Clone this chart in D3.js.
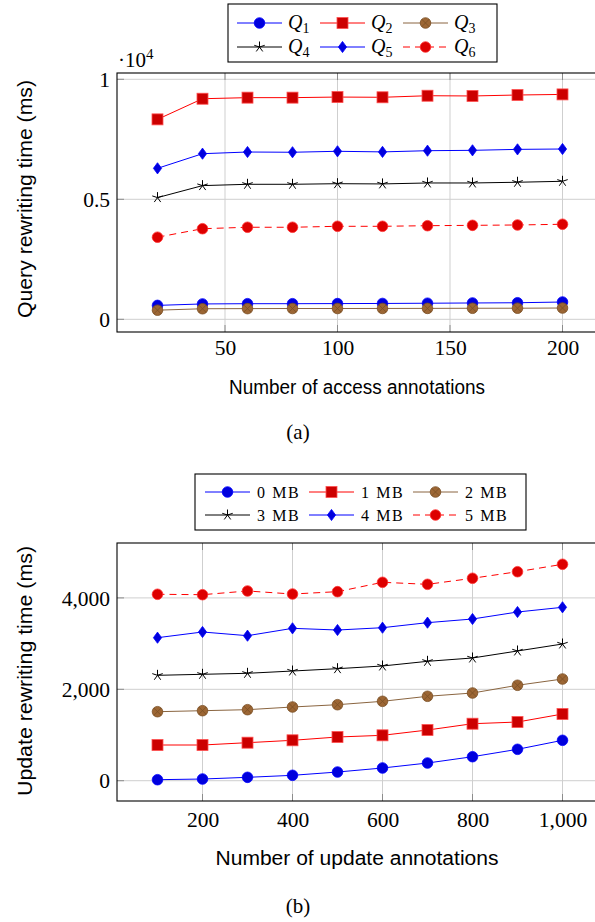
<!DOCTYPE html>
<html><head><meta charset="utf-8">
<script src="https://cdn.jsdelivr.net/npm/d3@7"></script>
<style>body{margin:0;background:#fff;} svg{display:block;}</style>
</head><body>
<script>
// ---------- data ----------
const accessX = [20, 40, 60, 80, 100, 120, 140, 160, 180, 200];
const q1 = [580, 640, 650, 650, 655, 660, 670, 680, 690, 720];
const q2 = [8330, 9190, 9235, 9235, 9260, 9250, 9315, 9305, 9345, 9370];
const q3 = [380, 440, 445, 450, 450, 452, 455, 460, 462, 470];
const q4 = [5070, 5570, 5625, 5625, 5650, 5640, 5680, 5680, 5710, 5750];
const q5 = [6290, 6900, 6970, 6960, 7000, 6975, 7025, 7040, 7080, 7095];
const q6 = [3420, 3775, 3835, 3835, 3875, 3875, 3900, 3915, 3930, 3960];
const accessXTicks = [50, 100, 150, 200];
const queryYTicks = [0, 5000, 10000];

const updateX = [100, 200, 300, 400, 500, 600, 700, 800, 900, 1000];
const mb0 = [22, 37, 74, 118, 190, 278, 387, 525, 687, 884];
const mb1 = [781, 781, 832, 884, 956, 993, 1109, 1247, 1284, 1459];
const mb2 = [1510, 1532, 1554, 1613, 1663, 1737, 1847, 1919, 2088, 2225];
const mb3 = [2306, 2328, 2350, 2400, 2451, 2510, 2612, 2685, 2838, 2991];
const mb4 = [3129, 3254, 3173, 3334, 3297, 3348, 3458, 3538, 3691, 3794];
const mb5 = [4079, 4070, 4151, 4085, 4136, 4341, 4297, 4429, 4573, 4735];
const updateXTicks = [200, 400, 600, 800, 1000];
const updateYTicks = [0, 2000, 4000];

const topNames = ["1", "2", "3", "4", "5", "6"];
const bottomNames = ["0 MB", "1 MB", "2 MB", "3 MB", "4 MB", "5 MB"];

// ---------- styles ----------
const styles = [
  {line: "#0000ff", fill: "#0000dd", stroke: "#0000ff", mark: "circle", dash: null},
  {line: "#ff0000", fill: "#cc0000", stroke: "#ff5050", mark: "square", dash: null},
  {line: "#8a6540", fill: "#9c6634", stroke: "#7a4f25", mark: "otimes", dash: null},
  {line: "#000000", fill: "none", stroke: "#000000", mark: "star", dash: null},
  {line: "#0000ff", fill: "#0000dd", stroke: "#0000ff", mark: "diamond", dash: null},
  {line: "#ff0000", fill: "#dd0000", stroke: "#ff3030", mark: "circle", dash: "7,5"}
];

const W = 595, H = 922;
const svg = d3.select("body").append("svg").attr("width", W).attr("height", H);

const serif = "'Liberation Serif','DejaVu Serif',serif";
const sans = "'Liberation Sans','DejaVu Sans',sans-serif";

function drawMark(g, type, cx, cy, s) {
  if (type === "circle") {
    g.append("circle").attr("cx", cx).attr("cy", cy).attr("r", 5.3)
      .attr("fill", s.fill).attr("stroke", s.stroke).attr("stroke-width", 0.8);
  } else if (type === "square") {
    g.append("rect").attr("x", cx - 5.5).attr("y", cy - 5.5).attr("width", 11).attr("height", 11)
      .attr("fill", s.fill).attr("stroke", s.stroke).attr("stroke-width", 0.8);
  } else if (type === "diamond") {
    g.append("path").attr("d", `M${cx},${cy-5.6}L${cx+4.1},${cy}L${cx},${cy+5.6}L${cx-4.1},${cy}Z`)
      .attr("fill", s.fill).attr("stroke", s.stroke).attr("stroke-width", 0.8);
  } else if (type === "otimes") {
    const r = 5.3, k = r * 0.7071;
    g.append("circle").attr("cx", cx).attr("cy", cy).attr("r", r)
      .attr("fill", s.fill).attr("stroke", s.stroke).attr("stroke-width", 0.8);
    g.append("path").attr("d", `M${cx-k},${cy-k}L${cx+k},${cy+k}M${cx-k},${cy+k}L${cx+k},${cy-k}`)
      .attr("stroke", s.stroke).attr("stroke-width", 0.8);
  } else if (type === "star") {
    let d = "";
    for (let i = 0; i < 5; i++) {
      const a = (-90 + 72 * i) * Math.PI / 180;
      d += `M${cx},${cy}L${cx + 5.5 * Math.cos(a)},${cy + 5.5 * Math.sin(a)}`;
    }
    g.append("path").attr("d", d).attr("stroke", s.stroke).attr("stroke-width", 1).attr("fill", "none");
  }
}

function plot(cfg) {
  const x = d3.scaleLinear().domain(cfg.xDomain).range([117, 603]);
  const y = d3.scaleLinear().domain(cfg.yDomain).range([cfg.bottom, cfg.top]);
  const clipId = "clip" + cfg.id;
  svg.append("clipPath").attr("id", clipId).append("rect")
    .attr("x", 117).attr("y", cfg.top).attr("width", 486).attr("height", cfg.bottom - cfg.top);
  const g = svg.append("g");
  // grid
  g.selectAll(".gx").data(cfg.xTicks).enter().append("line")
    .attr("x1", d => x(d)).attr("x2", d => x(d)).attr("y1", cfg.top).attr("y2", cfg.bottom)
    .attr("stroke", "#cfcfcf").attr("stroke-width", 1);
  g.selectAll(".gy").data(cfg.yTicks).enter().append("line")
    .attr("x1", 117).attr("x2", 603).attr("y1", d => y(d)).attr("y2", d => y(d))
    .attr("stroke", "#cfcfcf").attr("stroke-width", 1);
  // ticks (inside)
  g.selectAll(".tx").data(cfg.xTicks).enter().append("path")
    .attr("d", d => `M${x(d)},${cfg.bottom}v-7M${x(d)},${cfg.top}v7`)
    .attr("stroke", "#8c8c8c").attr("stroke-width", 1);
  g.selectAll(".ty").data(cfg.yTicks).enter().append("path")
    .attr("d", d => `M117,${y(d)}h7M603,${y(d)}h-7`)
    .attr("stroke", "#8c8c8c").attr("stroke-width", 1);
  // frame
  g.append("rect").attr("x", 117).attr("y", cfg.top).attr("width", 486).attr("height", cfg.bottom - cfg.top)
    .attr("fill", "none").attr("stroke", "#000").attr("stroke-width", 1.1);
  // tick labels via d3 axes (domain/ticks hidden)
  const ax = g.append("g").attr("transform", `translate(0,${cfg.bottom})`)
    .call(d3.axisBottom(x).tickValues(cfg.xTicks).tickSize(0).tickPadding(cfg.xPad).tickFormat(cfg.xFmt));
  const ay = g.append("g").attr("transform", `translate(117,0)`)
    .call(d3.axisLeft(y).tickValues(cfg.yTicks).tickSize(0).tickPadding(7).tickFormat(cfg.yFmt));
  [ax, ay].forEach(a => {
    a.select(".domain").remove();
    a.selectAll("text").attr("font-family", serif).attr("font-size", 21.5).attr("fill", "#000");
  });
  ay.selectAll("text").attr("dy", "0.33em");
  // series
  const sg = g.append("g").attr("clip-path", `url(#${clipId})`);
  cfg.series.forEach((vals, i) => {
    const s = styles[i];
    const line = d3.line().x((d, j) => x(cfg.xs[j])).y(d => y(d));
    sg.append("path").datum(vals).attr("d", line).attr("fill", "none")
      .attr("stroke", s.line).attr("stroke-width", 1)
      .attr("stroke-dasharray", s.dash);
  });
  cfg.series.forEach((vals, i) => {
    vals.forEach((v, j) => drawMark(sg, styles[i].mark, x(cfg.xs[j]), y(v), styles[i]));
  });
  // axis labels
  svg.append("text").attr("x", 357).attr("y", cfg.xLabelY).attr("text-anchor", "middle")
    .attr("font-family", sans).attr("font-size", 20).attr("textLength", cfg.xLabelLen)
    .attr("lengthAdjust", "spacingAndGlyphs").text(cfg.xLabel);
  svg.append("text").attr("transform", `translate(32,${cfg.yLabelC}) rotate(-90)`)
    .attr("text-anchor", "middle").attr("font-family", sans).attr("font-size", 20)
    .attr("textLength", cfg.yLabelLen).attr("lengthAdjust", "spacingAndGlyphs").text(cfg.yLabel);
  svg.append("text").attr("x", cfg.capX).attr("y", cfg.capY).attr("text-anchor", "middle")
    .attr("font-family", serif).attr("font-size", 21).text(cfg.caption);
}

plot({
  id: "a", xDomain: [2, 218], yDomain: [-529, 10262], top: 73, bottom: 332, xPad: 8,
  xs: accessX, series: [q1, q2, q3, q4, q5, q6],
  xTicks: accessXTicks, yTicks: queryYTicks,
  xFmt: d3.format("d"), yFmt: d => d3.format("~g")(d / 10000),
  xLabel: "Number of access annotations", xLabelY: 394, xLabelLen: 256,
  yLabel: "Query rewriting time (ms)", yLabelC: 199, yLabelLen: 238,
  caption: "(a)", capX: 298, capY: 439
});
svg.append("text").attr("x", 118).attr("y", 67).attr("font-family", serif).attr("font-size", 21)
  .html("·10<tspan font-size='15' dy='-8'>4</tspan>");

plot({
  id: "b", xDomain: [10, 1090], yDomain: [-444, 5201], top: 543, bottom: 801, xPad: 11,
  xs: updateX, series: [mb0, mb1, mb2, mb3, mb4, mb5],
  xTicks: updateXTicks, yTicks: updateYTicks,
  xFmt: d3.format(","), yFmt: d3.format(","),
  xLabel: "Number of update annotations", xLabelY: 865, xLabelLen: 283,
  yLabel: "Update rewriting time (ms)", yLabelC: 671, yLabelLen: 250,
  caption: "(b)", capX: 298, capY: 913
});

// ---------- legends ----------
function legend(cfg) {
  const g = svg.append("g");
  g.append("rect").attr("x", cfg.x).attr("y", cfg.y).attr("width", cfg.w).attr("height", cfg.h)
    .attr("fill", "#fff").attr("stroke", "#000").attr("stroke-width", 1.1);
  cfg.names.forEach((n, i) => {
    const col = i % 3, row = Math.floor(i / 3);
    const lx = cfg.x0 + col * cfg.colW, ly = cfg.rowY[row];
    const s = styles[i];
    g.append("line").attr("x1", lx).attr("x2", lx + 45).attr("y1", ly).attr("y2", ly)
      .attr("stroke", s.line).attr("stroke-width", 1).attr("stroke-dasharray", s.dash);
    drawMark(g, s.mark, lx + 22.5, ly, s);
    cfg.text(g, n, lx + cfg.textOff, ly);
  });
}
legend({
  x: 228, y: 4, w: 269, h: 58, x0: 237, colW: 83, rowY: [23, 47], names: topNames, textOff: 51,
  text: (g, n, tx, ty) => {
    const t = g.append("text").attr("x", tx).attr("y", ty + 6).attr("font-family", serif).attr("font-size", 20);
    t.append("tspan").attr("font-style", "italic").text("Q");
    t.append("tspan").attr("font-size", 14).attr("dy", 4).text(n);
  }
});
legend({
  x: 195, y: 474, w: 331, h: 56, x0: 205, colW: 104, rowY: [492, 515], names: bottomNames, textOff: 52,
  text: (g, n, tx, ty) => {
    g.append("text").attr("x", tx).attr("y", ty + 5.5).attr("font-family", serif).attr("font-size", 16)
      .attr("letter-spacing", 1.6).text(n);
  }
});
</script>
</body></html>
